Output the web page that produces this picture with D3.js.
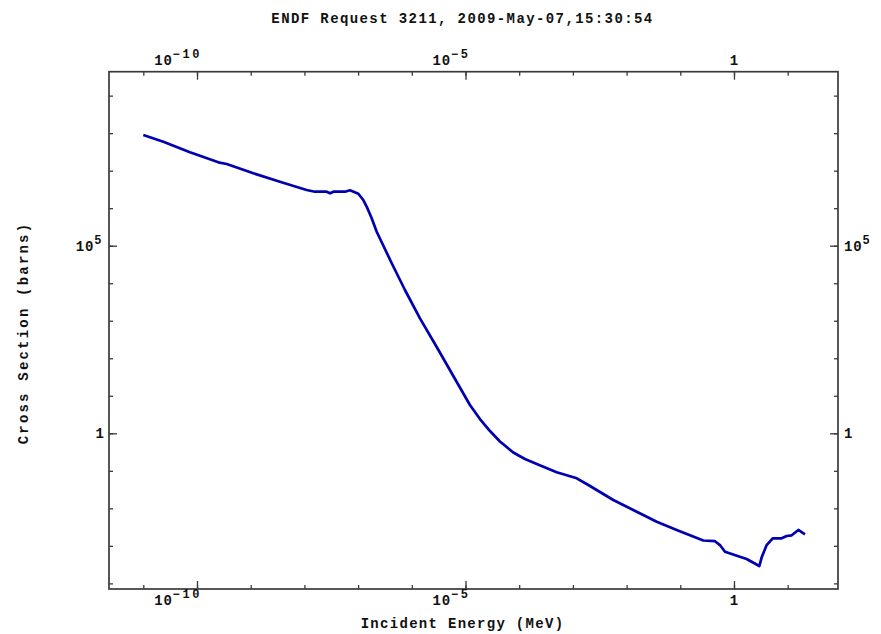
<!DOCTYPE html>
<html>
<head>
<meta charset="utf-8">
<script src="https://cdn.jsdelivr.net/npm/d3@7"></script>
<style>
  html, body { margin: 0; padding: 0; background: #fff; }
  svg { display: block; }
  text { font-family: "Liberation Mono", "DejaVu Sans Mono", monospace; font-weight: bold; fill: #111; }
</style>
</head>
<body>
<svg id="chart" width="881" height="634"></svg>
<script>
// Incident energy (MeV) and cross section (barns) along the evaluated curve
const energy = [
  1.0e-11, 2.36e-11, 7.4e-11, 2.5e-10, 3.57e-10, 1.12e-9, 3.5e-9, 1.1e-8, 1.57e-8,
  2.6e-8, 3.0e-8, 3.45e-8, 5.7e-8, 7.06e-8, 1.01e-7, 1.25e-7, 1.45e-7, 1.79e-7,
  2.22e-7, 4.23e-7, 7.46e-7, 1.42e-6, 2.91e-6, 5.93e-6, 1.21e-5, 1.86e-5, 2.86e-5,
  4.38e-5, 7.76e-5, 1.28e-4, 2.12e-4, 4.99e-4, 1.18e-3, 1.94e-3, 5.65e-3, 0.0133,
  0.0364, 0.0857, 0.268, 0.443, 0.548, 0.679, 1.72, 2.96, 3.28, 4.06, 5.26, 7.73,
  9.57, 11.9, 15.8, 21.0
];
const crossSection = [
  8.9e7, 5.9e7, 3.08e7, 1.67e7, 1.51e7, 8.5e6, 5.08e6, 3.05e6, 2.75e6,
  2.75e6, 2.49e6, 2.75e6, 2.75e6, 3.0e6, 2.43e6, 1.65e6, 1.09e6, 5.4e5,
  2.36e5, 3.4e4, 6.6e3, 1.16e3, 200, 33.7, 5.68, 2.40, 1.15,
  0.604, 0.308, 0.207, 0.152, 0.0914, 0.0632, 0.0419, 0.0167, 0.00903,
  0.00441, 0.00265, 0.00139, 0.00133, 0.00105, 6.99e-4, 4.47e-4, 2.9e-4, 4.95e-4, 1.05e-3, 1.59e-3, 1.59e-3,
  1.83e-3, 1.91e-3, 2.65e-3, 2.03e-3
];

// Axis ticks: one per decade, labelled decades get longer ticks
const xDecades = d3.range(-11, 2).map(p => Math.pow(10, p));
const xLabelled = [-10, -5, 0];
const yDecades = d3.range(-4, 10).map(p => Math.pow(10, p));
const yLabelled = [5, 0];

const titleText = "ENDF Request 3211, 2009-May-07,15:30:54";
const xTitle = "Incident Energy (MeV)";
const yTitle = "Cross Section (barns)";

const svg = d3.select("#chart");
const plotLeft = 109, plotRight = 838, plotTop = 71.7, plotBottom = 589;

const x = d3.scaleLog()
  .domain([Math.pow(10, -11.639), Math.pow(10, 1.937)])
  .range([plotLeft, plotRight]);
const y = d3.scaleLog()
  .domain([Math.pow(10, -4.150), Math.pow(10, 9.638)])
  .range([plotBottom, plotTop]);

const axisColor = "#3a3a3a";

// Tick marks on all four sides, pointing into the plot
function drawAxis(axisFn, scale, values, size, transform) {
  const g = svg.append("g")
    .attr("transform", transform)
    .call(axisFn(scale).tickValues(values).tickSize(-size).tickFormat(""));
  g.select(".domain").remove();
  g.selectAll(".tick line").attr("stroke", axisColor).attr("stroke-width", 1.3);
}
const xMajor = xLabelled.map(p => Math.pow(10, p));
const yMajor = yLabelled.map(p => Math.pow(10, p));
drawAxis(d3.axisBottom, x, xDecades, 4, `translate(0,${plotBottom})`);
drawAxis(d3.axisBottom, x, xMajor, 8, `translate(0,${plotBottom})`);
drawAxis(d3.axisTop, x, xDecades, 4, `translate(0,${plotTop})`);
drawAxis(d3.axisTop, x, xMajor, 8, `translate(0,${plotTop})`);
drawAxis(d3.axisLeft, y, yDecades, 4, `translate(${plotLeft},0)`);
drawAxis(d3.axisLeft, y, yMajor, 8, `translate(${plotLeft},0)`);
drawAxis(d3.axisRight, y, yDecades, 4, `translate(${plotRight},0)`);
drawAxis(d3.axisRight, y, yMajor, 8, `translate(${plotRight},0)`);

// Frame
svg.append("rect")
  .attr("x", plotLeft).attr("y", plotTop)
  .attr("width", plotRight - plotLeft).attr("height", plotBottom - plotTop)
  .attr("fill", "none").attr("stroke", axisColor).attr("stroke-width", 1.7);

// Power-of-ten label: "1" or "10" with a raised exponent
function powerLabel(sel, p) {
  if (p === 0) {
    sel.text("1");
    return;
  }
  sel.append("tspan").attr("font-size", 14).attr("letter-spacing", 0.8).text("10");
  sel.append("tspan").attr("font-size", 12).attr("letter-spacing", 2.6)
    .attr("dy", -7).text(p < 0 ? "\u2212" + (-p) : String(p));
}

xLabelled.forEach(p => {
  const tx = x(Math.pow(10, p));
  [plotTop - 6.5, plotBottom + 16].forEach(by => {
    const t = svg.append("text")
      .attr("x", p === 0 ? tx : tx + 5)
      .attr("y", by)
      .attr("text-anchor", p === 0 ? "middle" : "end")
      .attr("font-size", 14);
    powerLabel(t, p);
  });
});

yLabelled.forEach(p => {
  const ty = y(Math.pow(10, p)) + 5;
  const tl = svg.append("text").attr("x", 104).attr("y", ty)
    .attr("text-anchor", "end").attr("font-size", 14);
  powerLabel(tl, p);
  const tr = svg.append("text").attr("x", 844).attr("y", ty)
    .attr("text-anchor", "start").attr("font-size", 14);
  powerLabel(tr, p);
});

// Titles
svg.append("text")
  .attr("x", 462.5).attr("y", 22.5)
  .attr("text-anchor", "middle")
  .attr("font-size", 14).attr("letter-spacing", 1.4)
  .text(titleText);

svg.append("text")
  .attr("x", 462.5).attr("y", 628)
  .attr("text-anchor", "middle")
  .attr("font-size", 14).attr("letter-spacing", 1.3)
  .text(xTitle);

svg.append("text")
  .attr("transform", "translate(28,333) rotate(-90)")
  .attr("text-anchor", "middle")
  .attr("font-size", 14).attr("letter-spacing", 2.2)
  .text(yTitle);

// Cross-section curve
const points = energy.map((e, i) => ({ e, s: crossSection[i] }));
svg.append("path")
  .datum(points)
  .attr("fill", "none")
  .attr("stroke", "#0000b0")
  .attr("stroke-width", 2.7)
  .attr("stroke-linejoin", "round")
  .attr("d", d3.line().x(d => x(d.e)).y(d => y(d.s)));
</script>
</body>
</html>
